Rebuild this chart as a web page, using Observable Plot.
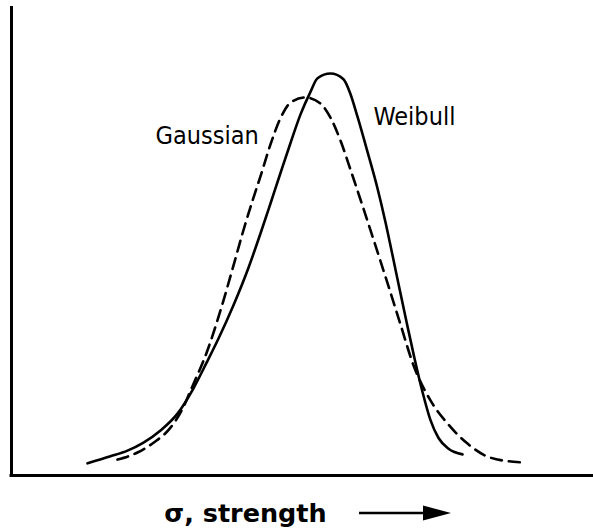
<!DOCTYPE html>
<html>
<head>
<meta charset="utf-8">
<script src="https://cdn.jsdelivr.net/npm/d3@7"></script>
<script src="https://cdn.jsdelivr.net/npm/@observablehq/plot@0.6"></script>
<style>
  html, body { margin: 0; padding: 0; background: #fff; }
  #wrap { position: relative; width: 593px; height: 532px; overflow: hidden; }
  #xlabel {
    position: absolute; top: 498px; left: 0; width: 593px; height: 30px;
    box-sizing: border-box; padding-left: 22px;
    display: flex; justify-content: center; align-items: center;
    font-family: "DejaVu Sans", sans-serif; font-weight: bold; font-size: 25.5px; line-height: 30px; color: #000;
  }
  #xlabel svg { margin-left: 32px; display: block; }
</style>
</head>
<body>
<div id="wrap">
  <div id="chart"></div>
  <div id="xlabel"><span id="xtext"></span><svg width="92" height="16" viewBox="0 0 92 16"><line x1="0" y1="8" x2="68" y2="8" stroke="#000" stroke-width="2.5"/><polygon points="64,0.5 92,8 64,15.5" fill="#000"/></svg></div>
</div>
<script>
// Strength axis (arbitrary units) and relative probability density
const weibullX = [1.306, 1.701, 1.993, 2.268, 2.560, 2.852, 3.127, 3.350, 3.557, 3.814, 4.072, 4.278, 4.450, 4.622, 4.794, 4.966, 5.137, 5.258, 5.481, 5.704, 5.825, 5.945, 6.117, 6.289, 6.426, 6.546, 6.667, 6.787, 6.924, 7.062, 7.199, 7.337, 7.509, 7.749];
const weibullY = [0.026, 0.041, 0.053, 0.070, 0.096, 0.132, 0.186, 0.240, 0.292, 0.363, 0.443, 0.516, 0.580, 0.645, 0.709, 0.770, 0.818, 0.847, 0.857, 0.845, 0.813, 0.765, 0.690, 0.612, 0.540, 0.470, 0.398, 0.328, 0.250, 0.178, 0.118, 0.080, 0.057, 0.045];
const gaussX = [1.821, 2.165, 2.440, 2.732, 2.938, 3.076, 3.368, 3.591, 3.797, 3.969, 4.141, 4.278, 4.450, 4.622, 4.794, 5.052, 5.309, 5.481, 5.653, 5.825, 5.997, 6.168, 6.340, 6.512, 6.684, 6.907, 7.199, 7.491, 7.835, 8.230, 8.746];
const gaussY = [0.034, 0.049, 0.070, 0.102, 0.142, 0.181, 0.267, 0.352, 0.440, 0.516, 0.586, 0.638, 0.706, 0.762, 0.795, 0.806, 0.793, 0.763, 0.714, 0.652, 0.588, 0.523, 0.457, 0.390, 0.322, 0.235, 0.160, 0.111, 0.068, 0.038, 0.028];
const seriesNames = ["Gaussian", "Weibull"];
const labelX = [2.474, 6.220];
const labelY = [0.723, 0.765];
const xAxisLabel = "σ, strength";

const weibull = weibullX.map((x, i) => ({x, y: weibullY[i]}));
const gauss = gaussX.map((x, i) => ({x, y: gaussY[i]}));
const labels = seriesNames.map((name, i) => ({name, x: labelX[i], y: labelY[i]}));

const chart = Plot.plot({
  width: 593,
  height: 490,
  marginLeft: 11,
  marginRight: 0,
  marginTop: 6,
  marginBottom: 15,
  x: {domain: [0, 10], axis: null},
  y: {domain: [0, 1], axis: null},
  style: {background: "#fff"},
  marks: [
    Plot.ruleX([0], {stroke: "#000", strokeWidth: 3}),
    Plot.ruleY([0], {stroke: "#000", strokeWidth: 3, strokeLinecap: "square"}),
    Plot.line(gauss, {x: "x", y: "y", curve: "monotone-x", stroke: "#000", strokeWidth: 2.6, strokeDasharray: "11,7"}),
    Plot.line(weibull, {x: "x", y: "y", curve: "monotone-x", stroke: "#000", strokeWidth: 2.6}),
    Plot.text(labels, {x: "x", y: "y", text: "name", textAnchor: "start", lineAnchor: "middle", fontSize: 25, fill: "#000",
      fontFamily: "'DejaVu Sans Condensed', 'DejaVu Sans', sans-serif"})
  ]
});
document.getElementById("chart").appendChild(chart);
document.getElementById("xtext").textContent = xAxisLabel;
</script>
</body>
</html>
